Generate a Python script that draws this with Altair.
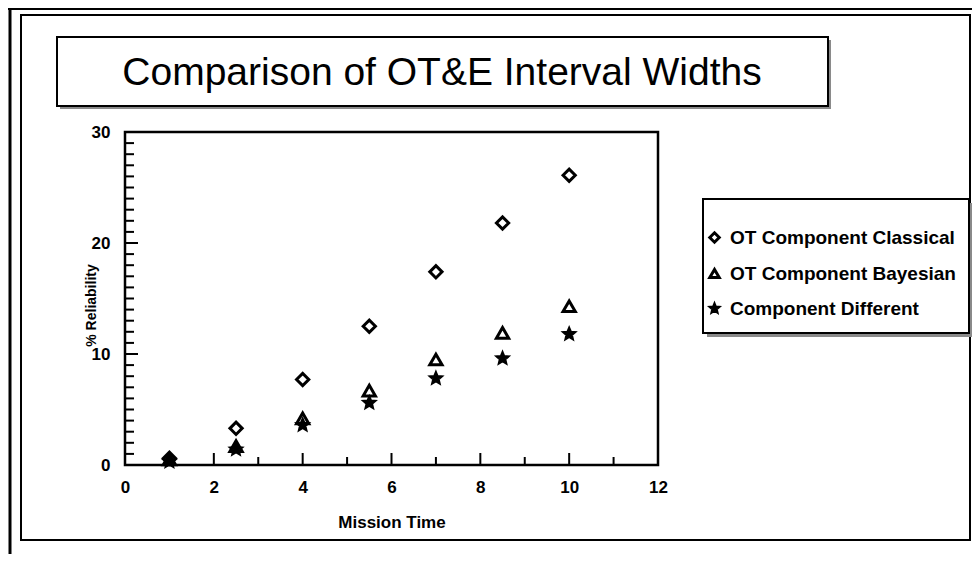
import altair as alt
import pandas as pd

FONT = "Liberation Sans"
TITLE = "Comparison of OT&E Interval Widths"
X_TITLE = "Mission Time"
Y_TITLE = "% Reliability"
SERIES = ["OT Component Classical", "OT Component Bayesian", "Component Different"]
STAR = ("M0,-0.85L0.2248,-0.3095L0.8084,-0.2627L0.3638,0.1182L0.4996,0.6877L0,0.3825"
        "L-0.4996,0.6877L-0.3638,0.1182L-0.8084,-0.2627L-0.2248,-0.3095Z")
SHAPES = ["diamond", "triangle-up", STAR]
FILLS = ["white", "white", "black"]
STROKES = ["black", "black", "black"]

TIME = [1, 2.5, 4, 5.5, 7, 8.5, 10]
CLASSICAL = [0.6, 3.3, 7.7, 12.5, 17.4, 21.8, 26.1]
BAYESIAN = [0.5, 1.7, 4.2, 6.7, 9.5, 11.9, 14.3]
DIFFERENT = [0.3, 1.4, 3.6, 5.6, 7.8, 9.6, 11.8]

X_LABELS = [0, 2, 4, 6, 8, 10, 12]
Y_LABELS = [0, 10, 20, 30]
X_MAJOR = [2, 4, 6, 8, 10]
X_MINOR = [1, 3, 5, 7, 9, 11]
Y_MAJOR = [10, 20]
Y_MINOR = [1, 2, 3, 4, 5, 6, 7, 8, 9, 11, 12, 13, 14, 15, 16, 17, 18, 19,
           21, 22, 23, 24, 25, 26, 27, 28, 29]

W, H = 533, 333

rows = []
for name, vals in zip(SERIES, [CLASSICAL, BAYESIAN, DIFFERENT]):
    for t, v in zip(TIME, vals):
        rows.append({"Time": t, "Reliability": v, "Series": name})
df = pd.DataFrame(rows)

xs = alt.Scale(domain=[0, 12], nice=False, zero=False)
ys = alt.Scale(domain=[0, 30], nice=False)

X_AX = alt.Axis(orient="bottom", values=X_LABELS, ticks=False, domain=False, grid=False,
                labelFontSize=17, labelFontWeight="bold", labelPadding=14,
                labelFlush=False, labelOverlap=False, format="d",
                title=X_TITLE, titleFontSize=17, titleFontWeight="bold",
                titleY=57, titleBaseline="middle")
Y_AX = alt.Axis(orient="left", values=Y_LABELS, ticks=False, domain=False, grid=False,
                labelFontSize=17, labelFontWeight="bold", labelPadding=15,
                labelFlush=False, labelOverlap=False, format="d",
                title=Y_TITLE, titleFontSize=14, titleFontWeight="bold",
                titleX=-34, titleY=173, titleAngle=-90, titleAlign="center",
                titleBaseline="middle")

X = alt.X("Time:Q", scale=xs, axis=X_AX)
Y = alt.Y("Reliability:Q", scale=ys, axis=Y_AX)

one = pd.DataFrame({"k": [0]})

def box(x, x2, y, y2, fill="white", stroke="black", sw=2.0):
    return alt.Chart(one).mark_rect(fill=fill, stroke=stroke, strokeWidth=sw).encode(
        x=alt.value(x), x2=alt.value(x2), y=alt.value(y), y2=alt.value(y2))

def line(x, x2, y, y2, sw=2.0):
    return alt.Chart(one).mark_rule(color="black", strokeWidth=sw).encode(
        x=alt.value(x), x2=alt.value(x2), y=alt.value(y), y2=alt.value(y2))

# decorations
outer_left = line(-115, -115, -124, 422, 3)
outer_top = line(-117, 847, -123, -123, 2)
inner_frame = alt.Chart(one).mark_rect(fill=None, stroke="black", strokeWidth=2).encode(
    x=alt.value(-104), x2=alt.value(845), y=alt.value(-117), y2=alt.value(408))
title_shadow = box(-65, 706, -92, -23, fill="#8a8a8a", stroke=None, sw=0)
title_box = box(-68, 703, -95, -26)
title_text = alt.Chart(one).mark_text(font=FONT, fontSize=39, align="center",
                                      baseline="alphabetic", color="black").encode(
    x=alt.value(317), y=alt.value(-47), text=alt.value(TITLE))
legend_shadow = box(582, 848, 71, 205, fill="#8a8a8a", stroke=None, sw=0)
legend_box = box(578, 844, 67, 201)

# inside ticks
def yticks(vals, length):
    d = pd.DataFrame({"Reliability": vals})
    return alt.Chart(d).mark_rule(color="black", strokeWidth=2).encode(
        y=Y, x=alt.value(0), x2=alt.value(length))

def xticks(vals, length):
    d = pd.DataFrame({"Time": vals})
    return alt.Chart(d).mark_rule(color="black", strokeWidth=2).encode(
        x=X, y=alt.value(H), y2=alt.value(H - length))

LEG = alt.Legend(orient="none", legendX=580, legendY=96, title=None,
                 labelFontSize=19, labelFontWeight="bold", labelLimit=0,
                 labelFont=FONT, labelColor="black",
                 symbolSize=90, symbolStrokeWidth=3,
                 rowPadding=14, labelOffset=6, padding=0)

points = alt.Chart(df).mark_point(filled=False, strokeWidth=3, size=150, opacity=1).encode(
    x=X, y=Y,
    shape=alt.Shape("Series:N", scale=alt.Scale(domain=SERIES, range=SHAPES),
                    sort=SERIES, legend=LEG),
    fill=alt.Fill("Series:N", scale=alt.Scale(domain=SERIES, range=FILLS),
                  sort=SERIES, legend=LEG),
    stroke=alt.Stroke("Series:N", scale=alt.Scale(domain=SERIES, range=STROKES),
                      sort=SERIES, legend=LEG),
)

chart = alt.layer(
    outer_left, outer_top, inner_frame,
    title_shadow, title_box, title_text,
    legend_shadow, legend_box,
    yticks(Y_MINOR, 9), yticks(Y_MAJOR, 13),
    xticks(X_MINOR, 8), xticks(X_MAJOR, 12),
    points,
).properties(
    width=W, height=H,
    padding={"left": 117, "top": 124, "right": 314, "bottom": 89},
    autosize=alt.AutoSizeParams(type="none"),
    background="white",
).configure_view(
    stroke="black", strokeWidth=2.5
).configure_axis(
    labelFont=FONT, titleFont=FONT, labelColor="black", titleColor="black"
)

chart.save("out.html", embed_options={"renderer": "svg", "actions": False})
